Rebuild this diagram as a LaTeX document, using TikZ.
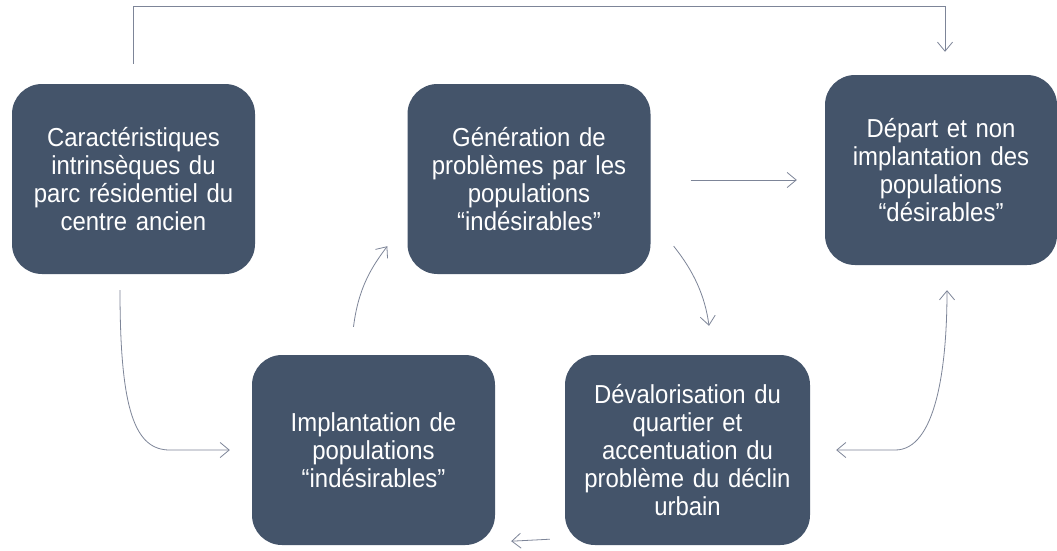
\documentclass[tikz,border=0pt]{standalone}
\usepackage{fontspec}
\setmainfont{Liberation Sans}[FakeStretch=0.92]
\usepackage{tikz}
\usetikzlibrary{arrows.meta,positioning,calc}
\definecolor{slateblue}{HTML}{44546A}
\definecolor{linkgrey}{HTML}{7D8598}

\begin{document}
\begin{tikzpicture}[
			x=1pt,y=-1pt,
			etape/.style={draw=none,fill=slateblue,rounded corners=30pt,minimum width=243pt,minimum height=190pt,text width=235pt,align=center,text=white,font=\fontsize{26}{28}\selectfont},
			link/.style={-{Straight Barb[length=9pt,width=15pt]},line width=0.8pt,linkgrey}
			]
			\useasboundingbox[fill=white] (0,0) rectangle (1057,550);
			\node[etape] (carac) at (133.5,179) {Caractéristiques\\intrinsèques du\\parc résidentiel du\\centre ancien};
			\node[etape] (gener) at (529,179) {Génération de\\problèmes par les\\populations\\“indésirables”};
			\node[etape,minimum width=232pt,text width=225pt] (depart) at (941,170) {Départ et non\\implantation des\\populations\\“désirables”};
			\node[etape] (implant) at (373.5,450) {Implantation de\\populations\\“indésirables”};
			\node[etape,minimum width=245pt] (deval) at (687.5,450) {Dévalorisation du\\quartier et\\accentuation du\\problème du déclin\\urbain};
			% points d'attache des liens
			\coordinate (carac-top) at ($(carac.north)+(0,-20)$);
			\coordinate (depart-top) at ($(depart.north)+(4,-23)$);
			\coordinate (carac-bas) at ($(carac.south)+(-13.5,16)$);
			\coordinate (implant-g) at ($(implant.west)+(-22,0)$);
			\coordinate (implant-h) at ($(implant.north)+(-20,-28)$);
			\coordinate (gener-bg) at ($(gener.south west)+(-20,-28)$);
			\coordinate (gener-d) at ($(gener.east)+(40,1)$);
			\coordinate (depart-g) at ($(depart.west)+(-28,10)$);
			\coordinate (gener-bd) at ($(gener.south east)+(23,-28)$);
			\coordinate (deval-h) at ($(deval.north)+(21.5,-29)$);
			\coordinate (deval-d) at ($(deval.east)+(26,0)$);
			\coordinate (depart-b) at ($(depart.south)+(6,25)$);
			\coordinate (deval-bg) at ($(deval.south west)+(-15,-6)$);
			\coordinate (implant-bd) at ($(implant.south east)+(16,-4)$);
			% liens
			\draw[link] (carac-top) -- ++(0,-57) -| (depart-top);
			\draw[link] (carac-bas) .. controls +(0,120) and +(-35,0) .. ($(implant-g)+(-60,0)$) -- (implant-g);
			\draw[link] (implant-h) .. controls +(5,-40) and +(-15,20) .. (gener-bg);
			\draw[link] (gener-d) -- (depart-g);
			\draw[link] (gener-bd) .. controls +(20,25) and +(-4,-30) .. (deval-h);
			\draw[link,{Straight Barb[length=9pt,width=15pt]}-{Straight Barb[length=9pt,width=15pt]}] (deval-d) -- ++(59,0) .. controls +(40,0) and +(0,80) .. (depart-b);
			\draw[link] (deval-bg) -- (implant-bd);
		\end{tikzpicture}
\end{document}
